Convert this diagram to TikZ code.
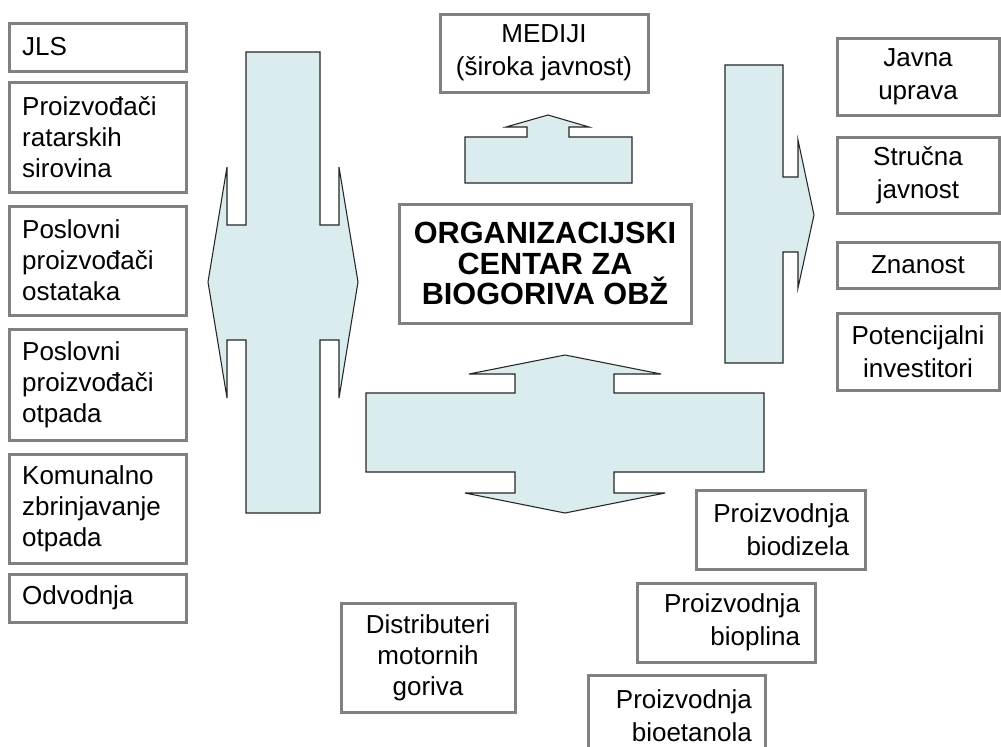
\documentclass[tikz,border=0pt]{standalone}
\usepackage{fontspec}
\setmainfont{Liberation Sans}
\definecolor{arrowfill}{RGB}{218,236,238}
\definecolor{boxgray}{RGB}{128,128,128}
\tikzset{
  box/.style={draw=boxgray, line width=2.25pt, fill=white, inner sep=0pt,
    font=\fontsize{19.5}{23.25}\selectfont},
  twoline/.style={font=\fontsize{19.5}{24.4}\selectfont},
  lbox/.style={box, align=left, text width=113pt},
  cbox/.style={box, align=center},
  bigarrow/.style={fill=arrowfill, draw=black!85, line width=0.8pt, line join=miter},
}
\newcommand\placebox[7]{%
  \node[#6, minimum width={(#4-#2)*0.75pt}, minimum height={(#5-#3)*0.75pt}]
    (#1) at ({(#2+#4)/2},{(#3+#5)/2}) {#7};}
\begin{document}
\begin{tikzpicture}[x=0.75pt,y=-0.75pt]
\clip (0,0) rectangle (1001,747);
\fill[white] (0,0) rectangle (1001,747);

% left double arrow (vertical bar with left/right heads)
\draw[bigarrow] (246,52) -- (320,52) -- (320,225) -- (339,225) -- (339,167)
  -- (358,282) -- (339,398) -- (339,340) -- (320,340) -- (320,513)
  -- (246,513) -- (246,340) -- (227,340) -- (227,398) -- (208,282)
  -- (227,167) -- (227,225) -- (246,225) -- cycle;

% right arrow
\draw[bigarrow] (725,65) -- (783,65) -- (783,177) -- (798,177) -- (798,140)
  -- (814,215) -- (798,288) -- (798,252) -- (783,252) -- (783,363)
  -- (725,363) -- cycle;

% up arrow to MEDIJI
\draw[bigarrow] (465,183) -- (465,137) -- (527,137) -- (527,127) -- (506,127)
  -- (548,115) -- (589,127) -- (569,127) -- (569,137) -- (632,137)
  -- (632,183) -- cycle;

% bottom cross arrow (up/down)
\draw[bigarrow] (366,393) -- (515,393) -- (515,374) -- (469,374) -- (565,355)
  -- (661,374) -- (614,374) -- (614,393) -- (764,393) -- (764,472)
  -- (614,472) -- (614,493) -- (665,493) -- (565,513) -- (465,493)
  -- (515,493) -- (515,472) -- (366,472) -- cycle;

% left column
\placebox{jls}{9}{23}{186}{71}{lbox}{JLS}
\placebox{ratar}{9}{82}{186}{192}{lbox}{Proizvođači\\ratarskih\\sirovina}
\placebox{ostat}{9}{206}{186}{315}{lbox}{Poslovni\\proizvođači\\ostataka}
\placebox{otpad}{9}{329}{186}{440}{lbox}{Poslovni\\proizvođači\\otpada}
\placebox{komun}{9}{454}{186}{563}{lbox}{Komunalno\\zbrinjavanje\\otpada}
\placebox{odvod}{9}{574}{186}{622}{lbox}{Odvodnja}

% top / centre
\placebox{mediji}{440}{14}{648}{92}{cbox, twoline}{MEDIJI\\(široka javnost)}
\placebox{centar}{399}{204}{691}{323}{cbox, font=\bfseries\fontsize{23}{23}\selectfont}{ORGANIZACIJSKI\\CENTAR ZA\\BIOGORIVA OBŽ}

% right column
\placebox{javna}{837}{38}{999}{115}{cbox, twoline}{Javna\\uprava}
\placebox{strucna}{837}{137}{999}{213}{cbox, twoline}{Stručna\\javnost}
\placebox{znanost}{837}{242}{999}{288}{cbox}{Znanost}
\placebox{potenc}{837}{313}{999}{390}{cbox, twoline}{Potencijalni\\investitori}

% bottom
\placebox{distrib}{341}{603}{515}{712}{cbox}{Distributeri\\motornih\\goriva}
\placebox{biodiz}{696}{490}{865}{569}{box, twoline, align=right, text width=103pt}{Proizvodnja\\biodizela}
\placebox{bioplin}{637}{583}{815}{662}{box, twoline, align=right, text width=111pt}{Proizvodnja\\bioplina}
\placebox{bioetan}{588}{675}{765}{756}{box, twoline, align=right, text width=113pt}{Proizvodnja\\bioetanola}
\end{tikzpicture}
\end{document}
